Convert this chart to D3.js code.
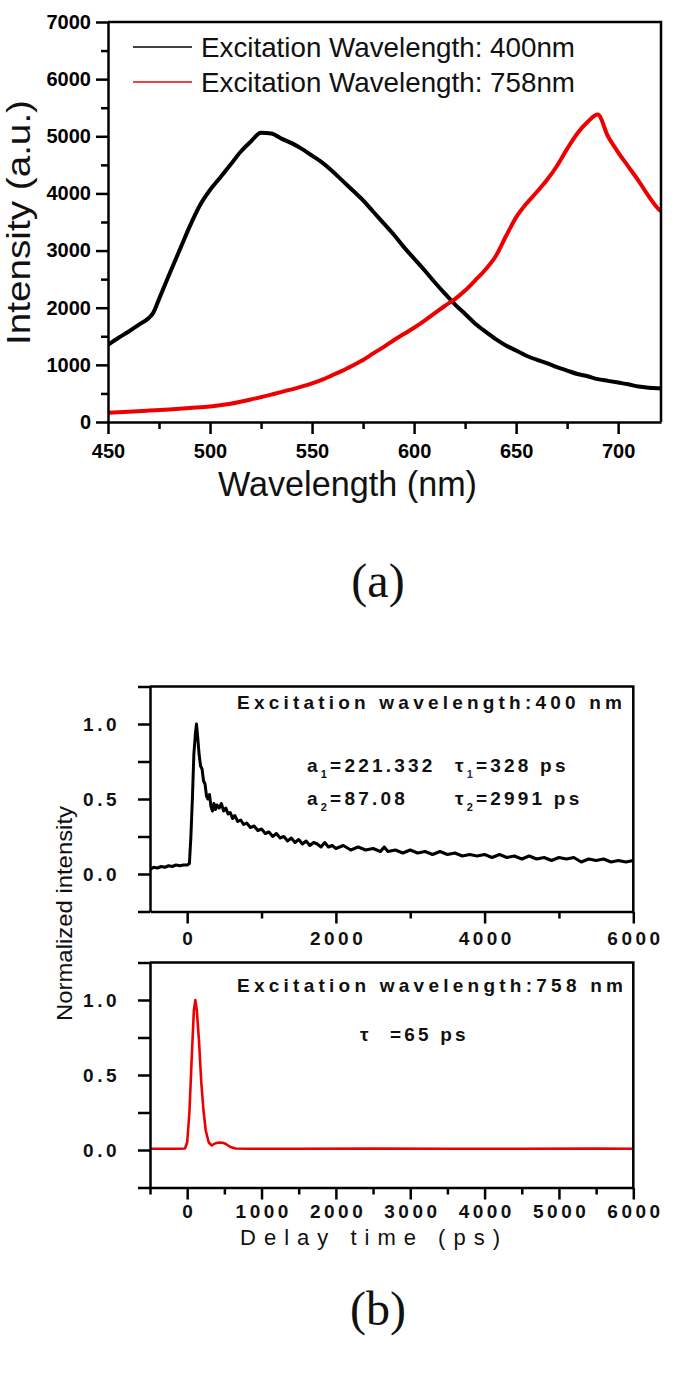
<!DOCTYPE html>
<html><head><meta charset="utf-8">
<script src="https://cdn.jsdelivr.net/npm/d3@7"></script>
<style>
html,body{margin:0;padding:0;background:#fff;}
svg{display:block;}
</style></head>
<body>
<script>
// ---------- Data: panel (a) PL spectra ----------
const plWavelength400 = [450,455,460,465,470,472,475,480,485,490,495,500,505,510,515,520,525,530,535,540,545,550,555,560,565,570,575,580,585,590,595,600,605,610,615,620,625,630,635,640,645,650,655,660,665,670,675,680,685,690,695,700,705,710,715,720,721];
const plIntensity400 = [1350,1470,1580,1700,1820,1900,2150,2580,3000,3420,3790,4060,4280,4500,4730,4910,5060,5050,4960,4880,4780,4660,4540,4390,4220,4050,3880,3680,3480,3280,3060,2860,2660,2450,2250,2060,1890,1720,1580,1450,1340,1250,1160,1090,1030,960,900,840,800,750,720,690,660,620,600,590,580];
const plWavelength758 = [450,460,470,480,490,500,510,520,530,540,550,555,560,565,570,575,580,585,590,595,600,605,610,615,620,625,630,635,640,645,650,655,660,665,670,675,680,685,690,695,700,705,710,715,720,721];
const plIntensity758 = [160,180,200,220,245,270,320,395,480,570,675,740,820,900,990,1085,1200,1310,1430,1540,1650,1770,1900,2030,2150,2300,2480,2670,2900,3250,3580,3820,4020,4230,4480,4780,5050,5250,5380,5000,4720,4470,4220,3950,3720,3690];
const plLegend = ["Excitation Wavelength: 400nm","Excitation Wavelength: 758nm"];
const plXTicks = [450,500,550,600,650,700];
const plXMinor = [475,525,575,625,675];
const plYTicks = [0,1000,2000,3000,4000,5000,6000,7000];
const plYMinor = [500,1500,2500,3500,4500,5500,6500];

// ---------- Data: panel (b) decay ----------
const decayTime400 = [-500,-450,-400,-350,-300,-250,-200,-150,-100,-50,0,30,50,70,90,110,125,140,160,180,200,220,240,260,280,300,320,340,360,380,400,430,460,490,520,550,580,610,640,680,720,760,800,850,900,950,1000,1050,1100,1150,1200,1250,1300,1350,1400,1450,1500,1550,1600,1650,1700,1750,1800,1850,1900,1950,2000,2100,2200,2300,2400,2500,2600,2650,2700,2800,2900,3000,3100,3200,3300,3400,3500,3600,3700,3800,3900,4000,4100,4200,4300,4400,4500,4600,4700,4800,4900,5000,5100,5200,5300,5400,5500,5600,5700,5800,5900,6000];
const decayValue400 = [.03,.045,.04,.05,.045,.055,.05,.06,.055,.06,.06,.07,.25,.5,.8,.93,1.0,.92,.8,.72,.7,.62,.6,.52,.5,.53,.45,.42,.47,.43,.46,.44,.47,.42,.44,.40,.41,.37,.39,.35,.36,.33,.34,.31,.32,.29,.30,.27,.28,.25,.27,.24,.25,.22,.24,.21,.23,.20,.22,.19,.21,.20,.18,.21,.18,.19,.17,.19,.16,.18,.16,.17,.15,.18,.15,.16,.14,.16,.14,.15,.13,.15,.13,.14,.12,.13,.12,.13,.11,.13,.11,.12,.10,.12,.10,.11,.09,.11,.10,.11,.08,.10,.09,.10,.08,.09,.08,.09];
const decayTime758 = [-500,-300,-100,-30,0,30,60,90,110,130,160,190,220,250,290,330,380,430,480,520,580,650,800,1500,2500,3500,4500,5500,6000];
const decayValue758 = [.008,.008,.008,.01,.05,.25,.6,.93,1.0,.93,.72,.45,.26,.13,.05,.03,.045,.05,.048,.04,.02,.01,.008,.008,.009,.008,.008,.009,.008];
const decayXTicksTop = [0,2000,4000,6000];
const decayXMinorTop = [1000,3000,5000];
const decayXTicksBottom = [0,1000,2000,3000,4000,5000,6000];
const decayXMinorBottom = [-500,500,1500,2500,3500,4500,5500];
const decayYTicks = [0,0.5,1.0];
const decayYMinor = [-0.25,0.25,0.75,1.25];

const SANS = "'Liberation Sans',Arial,sans-serif";
const SERIF = "'Liberation Serif','Times New Roman',serif";
const W = 675, H = 1381;
const svg = d3.select("body").append("svg").attr("width",W).attr("height",H)
  .style("font-family",SANS);
svg.append("rect").attr("width",W).attr("height",H).attr("fill","#fff");

function styleAxis(g, sw){
  g.selectAll(".domain").attr("stroke","#000").attr("stroke-width",sw);
  g.selectAll(".tick line").attr("stroke","#000").attr("stroke-width",sw);
  g.selectAll("text").style("font-family",SANS);
}

// ===================== Panel (a) =====================
const ax = d3.scaleLinear().domain([450,721]).range([108,661]);
const ay = d3.scaleLinear().domain([0,7000]).range([422,22]);
const gA = svg.append("g");
gA.append("clipPath").attr("id","clipA").append("rect")
  .attr("x",108).attr("y",22).attr("width",553).attr("height",400);

const lineA = (xs,ys)=> d3.line().x((d,i)=>ax(xs[i])).y((d,i)=>ay(ys[i])).curve(d3.curveMonotoneX)(xs);
gA.append("path").attr("d",lineA(plWavelength400,plIntensity400)).attr("fill","none")
  .attr("stroke","#000").attr("stroke-width",4).attr("clip-path","url(#clipA)");
gA.append("path").attr("d",lineA(plWavelength758,plIntensity758)).attr("fill","none")
  .attr("stroke","#ee0000").attr("stroke-width",4).attr("clip-path","url(#clipA)");

const axB = gA.append("g").attr("transform","translate(0,422)")
  .call(d3.axisBottom(ax).tickValues(plXTicks).tickSize(12).tickPadding(10).tickFormat(d3.format("d")).tickSizeOuter(0));
styleAxis(axB,2.5);
axB.selectAll("text").attr("font-size",20).attr("font-weight","bold").attr("fill","#000");
gA.append("g").attr("transform","translate(0,422)")
  .call(d3.axisBottom(ax).tickValues(plXMinor).tickSize(7).tickFormat("").tickSizeOuter(0))
  .call(g=>{styleAxis(g,2.5); g.select(".domain").remove();});
const axL = gA.append("g").attr("transform","translate(108,0)")
  .call(d3.axisLeft(ay).tickValues(plYTicks).tickSize(12).tickPadding(5).tickFormat(d3.format("d")).tickSizeOuter(0));
styleAxis(axL,2.5);
axL.selectAll("text").attr("font-size",20).attr("font-weight","bold").attr("fill","#000");
gA.append("g").attr("transform","translate(108,0)")
  .call(d3.axisLeft(ay).tickValues(plYMinor).tickSize(7).tickFormat("").tickSizeOuter(0))
  .call(g=>{styleAxis(g,2.5); g.select(".domain").remove();});
gA.append("path").attr("d",`M${ax(450)},${ay(7000)}H${ax(721)}V${ay(0)}`)
  .attr("fill","none").attr("stroke","#000").attr("stroke-width",2.5);

// legend
const legColors = ["#000","#ee0000"];
plLegend.forEach((t,i)=>{
  const yy = 47 + i*35;
  gA.append("line").attr("x1",133).attr("x2",192).attr("y1",yy).attr("y2",yy)
    .attr("stroke",legColors[i]).attr("stroke-width",1.6);
  gA.append("text").attr("x",201).attr("y",yy+10).attr("font-size",28)
    .attr("textLength",374).attr("lengthAdjust","spacingAndGlyphs").attr("fill","#111").text(t);
});
// titles
gA.append("text").attr("x",218).attr("y",496).attr("font-size",35)
  .attr("textLength",259).attr("lengthAdjust","spacingAndGlyphs").attr("fill","#111").text("Wavelength (nm)");
gA.append("text").attr("transform","translate(30,345) rotate(-90)").attr("font-size",34)
  .attr("textLength",245).attr("lengthAdjust","spacingAndGlyphs").attr("fill","#111").text("Intensity (a.u.)");
svg.append("text").attr("x",378).attr("y",597).attr("text-anchor","middle")
  .style("font-family",SERIF).attr("font-size",48).attr("fill","#111").text("(a)");

// ===================== Panel (b) =====================
const bx = d3.scaleLinear().domain([-500,6000]).range([150,633.3]);
const byTop = d3.scaleLinear().domain([-0.25,1.25]).range([911.5,686.5]);
const byBot = d3.scaleLinear().domain([-0.25,1.25]).range([1187.5,962.5]);
const gB = svg.append("g");

function panel(by, xs, ys, color, id, majorX, minorX, labelPad){
  const top = by(1.25), bot = by(-0.25);
  gB.append("clipPath").attr("id",id).append("rect")
    .attr("x",150).attr("y",top).attr("width",bx(6000)-150).attr("height",bot-top);
  gB.append("path").attr("d", d3.line().x((d,i)=>bx(xs[i])).y((d,i)=>by(ys[i]))(xs))
    .attr("fill","none").attr("stroke",color).attr("stroke-width",color==="#000"?3:2.6)
    .attr("stroke-linejoin","round").attr("clip-path",`url(#${id})`);
  const xa = gB.append("g").attr("transform",`translate(0,${bot})`)
    .call(d3.axisBottom(bx).tickValues(majorX).tickSize(12).tickPadding(labelPad).tickFormat(d3.format("d")).tickSizeOuter(0));
  styleAxis(xa,2.5);
  xa.selectAll("text").attr("font-size",19).attr("font-weight","bold").attr("fill","#111")
    .attr("letter-spacing","3.5px").attr("dx","1.7px");
  gB.append("g").attr("transform",`translate(0,${bot})`)
    .call(d3.axisBottom(bx).tickValues(minorX).tickSize(7).tickFormat("").tickSizeOuter(0))
    .call(g=>{styleAxis(g,2.5); g.select(".domain").remove();});
  const ya = gB.append("g").attr("transform","translate(150,0)")
    .call(d3.axisLeft(by).tickValues(decayYTicks).tickSize(12).tickPadding(18).tickFormat(d3.format(".1f")).tickSizeOuter(0));
  styleAxis(ya,2.5);
  ya.selectAll("text").attr("font-size",19).attr("font-weight","bold").attr("fill","#111")
    .attr("letter-spacing","3.5px");
  gB.append("g").attr("transform","translate(150,0)")
    .call(d3.axisLeft(by).tickValues(decayYMinor).tickSize(12).tickFormat("").tickSizeOuter(0))
    .call(g=>{styleAxis(g,2.5); g.select(".domain").remove();});
  gB.append("path").attr("d",`M150,${top}H${bx(6000)}V${bot}`)
    .attr("fill","none").attr("stroke","#000").attr("stroke-width",2.5);
}
panel(byTop, decayTime400, decayValue400, "#000", "clipB1", decayXTicksTop, decayXMinorTop, 8);
panel(byBot, decayTime758, decayValue758, "#ee0000", "clipB2", decayXTicksBottom, decayXMinorBottom, 5);

const boldTxt = (x,y,len,t)=> gB.append("text").attr("x",x).attr("y",y).attr("font-size",19)
  .attr("font-weight","bold").attr("fill","#111").attr("textLength",len).attr("lengthAdjust","spacing").text(t);
boldTxt(237,709,385,"Excitation wavelength:400 nm");
boldTxt(237,992,386,"Excitation wavelength:758 nm");

function subText(x,y,main,sub,rest,subColor){
  const t = gB.append("text").attr("x",x).attr("y",y).attr("font-size",19).attr("font-weight","bold")
    .attr("fill","#111").attr("letter-spacing","3.2px");
  t.append("tspan").text(main);
  t.append("tspan").attr("font-size",11).attr("dy",6).attr("fill",subColor).text(sub);
  t.append("tspan").attr("dy",-6).text(rest);
}
subText(307,772,"a","1","=221.332","#111");
subText(307,805,"a","2","=87.08","#111");
subText(455,772,"τ","1","=328 ps","#223070");
subText(455,805,"τ","2","=2991 ps","#111");
gB.append("text").attr("x",360).attr("y",1041).attr("font-size",19).attr("font-weight","bold").attr("fill","#111").text("τ");
gB.append("text").attr("x",390).attr("y",1041).attr("font-size",19).attr("font-weight","bold")
  .attr("fill","#111").attr("letter-spacing","3.2px").text("=65 ps");

gB.append("text").attr("x",240).attr("y",1245).attr("font-size",22).attr("fill","#111")
  .attr("textLength",260).attr("lengthAdjust","spacing").text("Delay time (ps)");
gB.append("text").attr("transform","translate(72,1021) rotate(-90)").attr("font-size",22).attr("fill","#111")
  .attr("textLength",215).attr("lengthAdjust","spacingAndGlyphs").text("Normalized intensity");
svg.append("text").attr("x",378).attr("y",1325).attr("text-anchor","middle")
  .style("font-family",SERIF).attr("font-size",48).attr("fill","#111").text("(b)");
</script>
</body></html>
